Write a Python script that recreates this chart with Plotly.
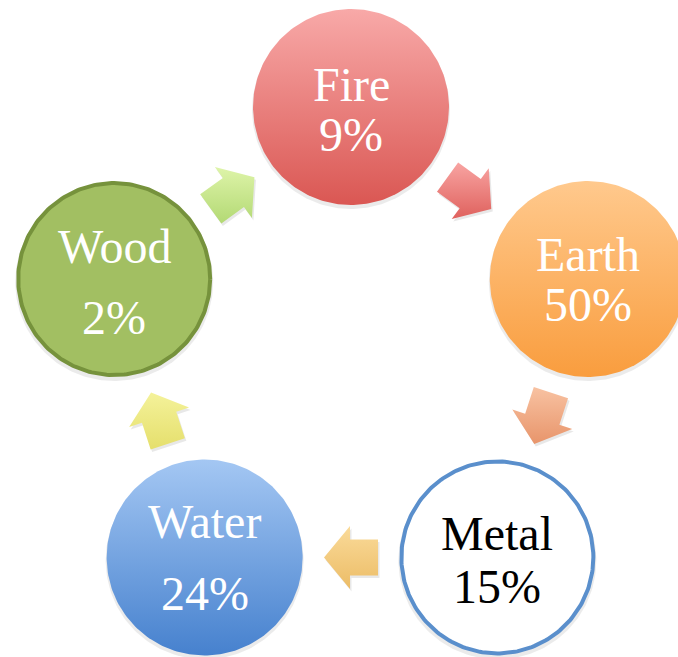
import numpy as np
import plotly.graph_objects as go

# ---- data ----
elements = ["Fire", "Earth", "Metal", "Water", "Wood"]
shares = [9, 50, 15, 24, 2]

# ---- style / layout ----
W, H = 678, 657
CX, CY, RING = 351, 356, 249          # pentagon centre and radius
R = 98                                # circle radius
FONT = "Liberation Serif"
FSIZE = 48

circle_top = ["#F8A9A8", "#FFC98D", "#FFFFFF", "#A4C7F3", "#A2BF62"]
circle_bot = ["#DA5753", "#F99D3E", "#FFFFFF", "#4681CE", "#A2BF62"]
circle_line = [None, None, ("#5A8FCC", 4), None, ("#76923C", 4)]
text_color = ["white", "white", "black", "white", "white"]
line_offsets = [(-23, 27), (-25, 25), (-24, 29), (-36, 36), (-33, 38)]

arrow_top = ["#F8A4A2", "#F8C2A2", "#FADB9A", "#F4F29A", "#DEF4A9"]
arrow_bot = ["#DF615D", "#E8956B", "#ECBC66", "#E5DF6C", "#B3D974"]
A_LEN, A_HEAD, A_HW, A_SW = 54, 26, 63, 36

fig = go.Figure()

def centre(i):
    ang = np.deg2rad(-90 + 72 * i)
    return CX + RING * np.cos(ang), CY + RING * np.sin(ang)

t = np.linspace(0, 2 * np.pi, 241)

# arrows (drawn first)
for i in range(len(elements)):
    x0, y0 = centre(i)
    x1, y1 = centre((i + 1) % len(elements))
    mx, my = (x0 + x1) / 2, (y0 + y1) / 2
    ang = np.arctan2(y1 - y0, x1 - x0)
    pts = [(-A_LEN / 2, -A_SW / 2), (A_LEN / 2 - A_HEAD, -A_SW / 2),
           (A_LEN / 2 - A_HEAD, -A_HW / 2), (A_LEN / 2, 0),
           (A_LEN / 2 - A_HEAD, A_HW / 2), (A_LEN / 2 - A_HEAD, A_SW / 2),
           (-A_LEN / 2, A_SW / 2), (-A_LEN / 2, -A_SW / 2)]
    ca, sa = np.cos(ang), np.sin(ang)
    xs = [mx + px * ca - py * sa for px, py in pts]
    ys = [my + px * sa + py * ca for px, py in pts]
    # shadow
    fig.add_trace(go.Scatter(x=[v + 1.5 for v in xs], y=[v + 2.5 for v in ys],
                             mode="lines", fill="toself", line=dict(width=0),
                             fillcolor="rgba(0,0,0,0.09)", hoverinfo="skip",
                             showlegend=False))
    fig.add_trace(go.Scatter(
        x=xs, y=ys, mode="lines", fill="toself", line=dict(width=0),
        fillgradient=dict(type="vertical", start=min(ys), stop=max(ys),
                          colorscale=[[0, arrow_top[i]], [1, arrow_bot[i]]]),
        hoverinfo="skip", showlegend=False))

# circles
for i, name in enumerate(elements):
    cx, cy = centre(i)
    # shadow
    fig.add_trace(go.Scatter(x=cx + (R + 1) * np.cos(t), y=cy + 3 + (R + 1) * np.sin(t),
                             mode="lines", fill="toself", line=dict(width=0),
                             fillcolor="rgba(0,0,0,0.08)", hoverinfo="skip",
                             showlegend=False))
    lw = circle_line[i]
    rr = R - (lw[1] / 2 if lw else 0)
    fig.add_trace(go.Scatter(
        x=cx + rr * np.cos(t), y=cy + rr * np.sin(t), mode="lines", fill="toself",
        line=dict(width=lw[1], color=lw[0]) if lw else dict(width=0),
        fillgradient=dict(type="vertical", start=cy - R, stop=cy + R,
                          colorscale=[[0, circle_top[i]], [1, circle_bot[i]]]),
        hoverinfo="skip", showlegend=False))
    o1, o2 = line_offsets[i]
    for txt, off in ((name, o1), (f"{shares[i]}%", o2)):
        fig.add_annotation(x=cx, y=cy + off, text=txt, showarrow=False,
                           xanchor="center", yanchor="middle",
                           font=dict(family=FONT, size=FSIZE, color=text_color[i]))

fig.update_layout(
    width=W, height=H, margin=dict(l=0, r=0, t=0, b=0),
    paper_bgcolor="white", plot_bgcolor="white",
    xaxis=dict(range=[0, W], visible=False, fixedrange=True),
    yaxis=dict(range=[H, 0], visible=False, fixedrange=True,
               scaleanchor="x", scaleratio=1),
    showlegend=False,
)
fig.write_html("out.html", config={"displayModeBar": False})
